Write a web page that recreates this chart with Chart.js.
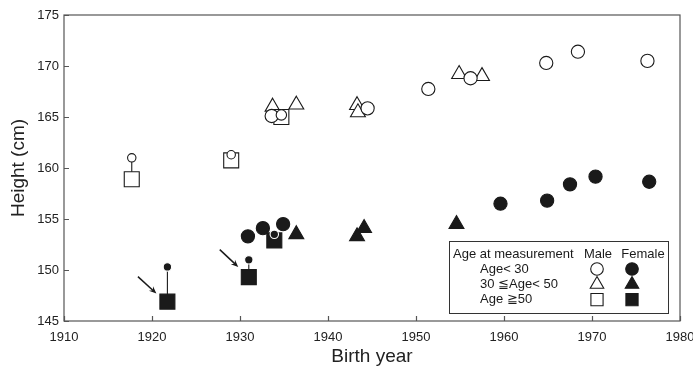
<!DOCTYPE html>
<html>
<head>
<meta charset="utf-8">
<script src="https://cdn.jsdelivr.net/npm/chart.js@4.4.0/dist/chart.umd.min.js"></script>
<style>
    html, body { margin: 0; padding: 0; background: #fff; }
    #wrap { width: 693px; height: 371px; }
</style>
</head>
<body>
<div id="wrap"><canvas id="height-chart"></canvas></div>
<script>
// Données : année de naissance / taille (cm)
const maleYoungYears = [1933.6, 1944.5, 1951.4, 1956.2, 1964.8, 1968.4, 1976.3];
const maleYoungHeights = [165.1, 165.85, 167.75, 168.8, 170.3, 171.4, 170.5];
const maleYoungMidSizeYears = [1934.7];
const maleYoungMidSizeHeights = [165.2];
const maleYoungSmallYears = [1917.7, 1929.0];
const maleYoungSmallHeights = [161.0, 161.3];

const maleMidYears = [1933.7, 1936.4, 1943.3, 1943.4, 1954.9, 1957.5];
const maleMidHeights = [166.0, 166.2, 166.15, 165.45, 169.2, 169.0];

const maleOldYears = [1917.7, 1929.0, 1934.7];
const maleOldHeights = [158.9, 160.75, 165.0];

const femaleYoungYears = [1930.9, 1932.6, 1934.9, 1959.6, 1964.9, 1967.5, 1970.4, 1976.5];
const femaleYoungHeights = [153.3, 154.1, 154.5, 156.5, 156.8, 158.4, 159.15, 158.65];
const femaleYoungSmallYears = [1921.75, 1931.0, 1933.9];
const femaleYoungSmallHeights = [150.3, 151.0, 153.5];

const femaleMidYears = [1936.4, 1943.3, 1944.1, 1954.6];
const femaleMidHeights = [153.5, 153.3, 154.1, 154.5];

const femaleOldYears = [1921.75, 1931.0, 1933.9];
const femaleOldHeights = [146.9, 149.3, 152.9];

// Traits verticaux reliant deux mesures d'une même personne
const stemYears = [1917.7, 1921.75, 1931.0];
const stemLow = [158.9, 146.9, 149.3];
const stemHigh = [161.0, 150.3, 151.0];

// Flèches (queue -> pointe), en unités des axes
const arrowTailYears = [1918.4, 1927.7];
const arrowTailHeights = [149.35, 152.0];
const arrowHeadYears = [1920.5, 1929.8];
const arrowHeadHeights = [147.7, 150.3];

const yearTicks = [1910, 1920, 1930, 1940, 1950, 1960, 1970, 1980];
const heightTicks = [145, 150, 155, 160, 165, 170, 175];

const INK = '#1a1a1a';
const FONT = "'Liberation Sans', Arial, sans-serif";

function toPoints(xs, ys) {
    return xs.map((x, i) => ({ x: x, y: ys[i] }));
}

function markerSet(label, xs, ys, style, radius, filled, order, border) {
    return {
        label: label,
        data: toPoints(xs, ys),
        pointStyle: style,
        pointRadius: radius,
        pointHoverRadius: radius,
        pointBackgroundColor: filled ? INK : '#fff',
        pointBorderColor: border || INK,
        pointBorderWidth: 1.1,
        showLine: false,
        order: order
    };
}

const stemSets = stemYears.map((x, i) => ({
    type: 'line',
    label: 'stem' + i,
    data: [{ x: x, y: stemLow[i] }, { x: x, y: stemHigh[i] }],
    borderColor: INK,
    borderWidth: 1.1,
    pointRadius: 0,
    showLine: true,
    order: 20
}));

// Cadre, graduations intérieures, flèches et légende
const decorPlugin = {
    id: 'decor',
    afterDatasetsDraw(chart) {
        const { ctx, chartArea: a, scales: { x, y } } = chart;
        ctx.save();
        ctx.strokeStyle = '#555';
        ctx.lineWidth = 1.2;
        ctx.strokeRect(a.left, a.top, a.right - a.left, a.bottom - a.top);
        ctx.beginPath();
        yearTicks.forEach(v => {
            const px = Math.round(x.getPixelForValue(v)) + 0.5;
            ctx.moveTo(px, a.bottom);
            ctx.lineTo(px, a.bottom - 5);
        });
        heightTicks.forEach(v => {
            const py = Math.round(y.getPixelForValue(v)) + 0.5;
            ctx.moveTo(a.left, py);
            ctx.lineTo(a.left + 5, py);
        });
        ctx.stroke();

        // Flèches
        ctx.strokeStyle = INK;
        ctx.fillStyle = INK;
        ctx.lineWidth = 1.5;
        arrowTailYears.forEach((tx, i) => {
            const x0 = x.getPixelForValue(tx), y0 = y.getPixelForValue(arrowTailHeights[i]);
            const x1 = x.getPixelForValue(arrowHeadYears[i]), y1 = y.getPixelForValue(arrowHeadHeights[i]);
            const ang = Math.atan2(y1 - y0, x1 - x0);
            const len = 8;
            ctx.beginPath();
            ctx.moveTo(x0, y0);
            ctx.lineTo(x1 - Math.cos(ang) * 3, y1 - Math.sin(ang) * 3);
            ctx.stroke();
            ctx.beginPath();
            ctx.moveTo(x1, y1);
            ctx.lineTo(x1 - len * Math.cos(ang - 0.4), y1 - len * Math.sin(ang - 0.4));
            ctx.lineTo(x1 - len * 0.6 * Math.cos(ang), y1 - len * 0.6 * Math.sin(ang));
            ctx.lineTo(x1 - len * Math.cos(ang + 0.4), y1 - len * Math.sin(ang + 0.4));
            ctx.closePath();
            ctx.fill();
        });

        // Légende
        const bx = a.right - 231, by = a.bottom - 80, bw = 219, bh = 72;
        ctx.fillStyle = '#fff';
        ctx.fillRect(bx, by, bw, bh);
        ctx.strokeStyle = '#333';
        ctx.lineWidth = 1;
        ctx.strokeRect(bx + 0.5, by + 0.5, bw, bh);
        ctx.fillStyle = INK;
        ctx.font = '13px ' + FONT;
        ctx.textBaseline = 'middle';
        ctx.textAlign = 'left';
        ctx.fillText('Age at measurement', bx + 4, by + 13);
        ctx.textAlign = 'center';
        ctx.fillText('Male', bx + 149, by + 13);
        ctx.fillText('Female', bx + 194, by + 13);
        ctx.textAlign = 'left';
        const rows = ['Age< 30', '30 \u2266Age< 50', 'Age \u226750'];
        const styles = [['circle', 6.3], ['triangle', 7.8], ['rect', 8.6]];
        rows.forEach((txt, i) => {
            const ry = by + 28 + i * 15.3;
            ctx.fillStyle = INK;
            ctx.fillText(txt, bx + 31, ry);
            const opts = { pointStyle: styles[i][0], radius: styles[i][1], rotation: 0, borderWidth: 1.1 };
            ctx.strokeStyle = INK;
            ctx.lineWidth = 1.1;
            ctx.fillStyle = '#fff';
            Chart.helpers.drawPoint(ctx, opts, bx + 148, ry);
            ctx.fillStyle = INK;
            Chart.helpers.drawPoint(ctx, opts, bx + 183, ry);
        });
        ctx.restore();
    }
};

const ctx = document.getElementById('height-chart');

const chart = new Chart(ctx, {
    type: 'scatter',
    data: {
        datasets: [
            ...stemSets,
            markerSet('Male 30-50', maleMidYears, maleMidHeights, 'triangle', 8.6, false, 10),
            markerSet('Male >=50', maleOldYears, maleOldHeights, 'rect', 10.6, false, 9),
            markerSet('Male <30', maleYoungYears, maleYoungHeights, 'circle', 6.6, false, 8),
            markerSet('Male <30 mid', maleYoungMidSizeYears, maleYoungMidSizeHeights, 'circle', 5.2, false, 7),
            markerSet('Male <30 small', maleYoungSmallYears, maleYoungSmallHeights, 'circle', 4.2, false, 6),
            markerSet('Female 30-50', femaleMidYears, femaleMidHeights, 'triangle', 8.6, true, 5),
            markerSet('Female >=50', femaleOldYears, femaleOldHeights, 'rect', 10.6, true, 4),
            markerSet('Female <30', femaleYoungYears, femaleYoungHeights, 'circle', 6.6, true, 3),
            markerSet('Female <30 small', femaleYoungSmallYears, femaleYoungSmallHeights, 'circle', 4.2, true, 2, '#fff')
        ]
    },
    options: {
        responsive: true,
        maintainAspectRatio: false,
        animation: false,
        events: [],
        layout: { padding: { top: 15, right: 13, left: 0, bottom: 0 } },
        plugins: {
            legend: { display: false },
            tooltip: { enabled: false }
        },
        scales: {
            x: {
                type: 'linear',
                min: 1910,
                max: 1980,
                grid: { display: false, drawTicks: false },
                border: { display: false },
                afterBuildTicks: scale => { scale.ticks = yearTicks.map(v => ({ value: v })); },
                ticks: { color: '#222', padding: 9, maxRotation: 0, font: { family: FONT, size: 13 }, callback: v => String(v) },
                title: { display: true, text: 'Birth year', color: '#222', padding: { top: 0, bottom: 3 }, font: { family: FONT, size: 19 } },
                afterFit: scale => { scale.height = 50; scale.paddingLeft = 0; scale.paddingRight = 0; }
            },
            y: {
                min: 145,
                max: 175,
                grid: { display: false, drawTicks: false },
                border: { display: false },
                afterBuildTicks: scale => { scale.ticks = heightTicks.map(v => ({ value: v })); },
                ticks: { color: '#222', padding: 5, font: { family: FONT, size: 13 }, callback: v => String(v) },
                title: { display: true, text: 'Height (cm)', color: '#222', padding: { top: 7, bottom: 0 }, font: { family: FONT, size: 19 } },
                afterFit: scale => { scale.width = 64; scale.paddingTop = 0; scale.paddingBottom = 0; }
            }
        }
    },
    plugins: [decorPlugin]
});
</script>
</body>
</html>
